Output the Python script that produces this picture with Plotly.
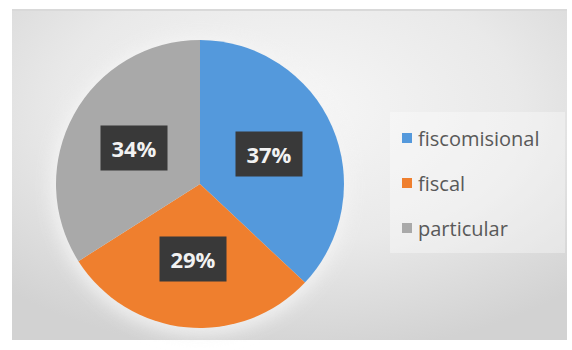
import base64
import math
import plotly.graph_objects as go

# Tipo de institución educativa
categorias = ["fiscomisional", "fiscal", "particular"]
porcentajes = [37, 29, 34]
colores = ["#5499dc", "#ef7f2e", "#a9a9a9"]

W, H = 572, 350

# Fondo con degradado radial gris (panel con marco blanco)
svg = f"""<svg xmlns='http://www.w3.org/2000/svg' width='{W}' height='{H}' viewBox='0 0 {W} {H}'>
<defs>
<radialGradient id='g' cx='0.5' cy='0.3' r='0.75'>
<stop offset='0' stop-color='#f7f7f7'/>
<stop offset='0.55' stop-color='#e9e9e9'/>
<stop offset='1' stop-color='#d2d2d2'/>
</radialGradient>
<filter id='b' x='-30%' y='-30%' width='160%' height='160%'><feGaussianBlur stdDeviation='8'/></filter>
</defs>
<rect x='0' y='0' width='{W}' height='{H}' fill='#ffffff'/>
<rect x='12' y='9' width='555' height='331' fill='url(#g)'/>
<rect x='12' y='9' width='555' height='2' fill='#d9d9d9'/>
<circle cx='200' cy='186' r='150' fill='#f4f4f4' opacity='0.8' filter='url(#b)'/>
</svg>"""
fondo = "data:image/svg+xml;base64," + base64.b64encode(svg.encode()).decode()

dom_x = [56 / W, 344 / W]
dom_y = [1 - 328 / H, 1 - 40 / H]

fig = go.Figure(
    go.Pie(
        labels=categorias,
        values=porcentajes,
        sort=False,
        direction="clockwise",
        rotation=0,
        marker=dict(colors=colores, line=dict(width=0)),
        textinfo="none",
        hoverinfo="label+percent",
        domain=dict(x=dom_x, y=dom_y),
        showlegend=False,
    )
)

# Etiquetas de porcentaje en cajas oscuras, colocadas en el ángulo medio de cada sector
cx = (dom_x[0] + dom_x[1]) / 2 * W
cy = (1 - (dom_y[0] + dom_y[1]) / 2) * H
R = min((dom_x[1] - dom_x[0]) * W, (dom_y[1] - dom_y[0]) * H) / 2
total = sum(porcentajes)
acum = 0
anotaciones = []
for v in porcentajes:
    medio = (acum + v / 2) / total * 2 * math.pi
    acum += v
    r = 0.52 * R
    px = cx + r * math.sin(medio)
    py = cy - r * math.cos(medio)
    anotaciones.append(dict(
        x=px / W, y=1 - py / H, xref="paper", yref="paper",
        xanchor="center", yanchor="middle",
        text=f"<b>{v}%</b>", showarrow=False,
        font=dict(family="Open Sans", size=22, color="#f2f2f2"),
        bgcolor="#393939", borderpad=8, width=50, height=28,
    ))

# Leyenda
formas = [dict(type="rect", xref="paper", yref="paper",
               x0=390 / W, x1=565 / W, y0=1 - 253 / H, y1=1 - 112 / H,
               fillcolor="rgba(255,255,255,0.35)", line=dict(width=0), layer="below")]
for i, (cat, col) in enumerate(zip(categorias, colores)):
    yc = 138 + i * 45
    formas.append(dict(type="rect", xref="paper", yref="paper",
                       x0=402 / W, x1=412 / W, y0=1 - (yc + 5) / H, y1=1 - (yc - 5) / H,
                       fillcolor=col, line=dict(width=0)))
    anotaciones.append(dict(
        x=416 / W, y=1 - yc / H, xref="paper", yref="paper",
        text=cat, showarrow=False, xanchor="left", yanchor="middle",
        font=dict(family="Open Sans", size=20, color="#595959"),
    ))

fig.update_layout(
    width=W, height=H,
    margin=dict(l=0, r=0, t=0, b=0),
    paper_bgcolor="#ffffff",
    plot_bgcolor="rgba(0,0,0,0)",
    images=[dict(source=fondo, xref="paper", yref="paper", x=0, y=1,
                 sizex=1, sizey=1, sizing="stretch", layer="below")],
    shapes=formas,
    annotations=anotaciones,
)

fig.write_html("out.html")
